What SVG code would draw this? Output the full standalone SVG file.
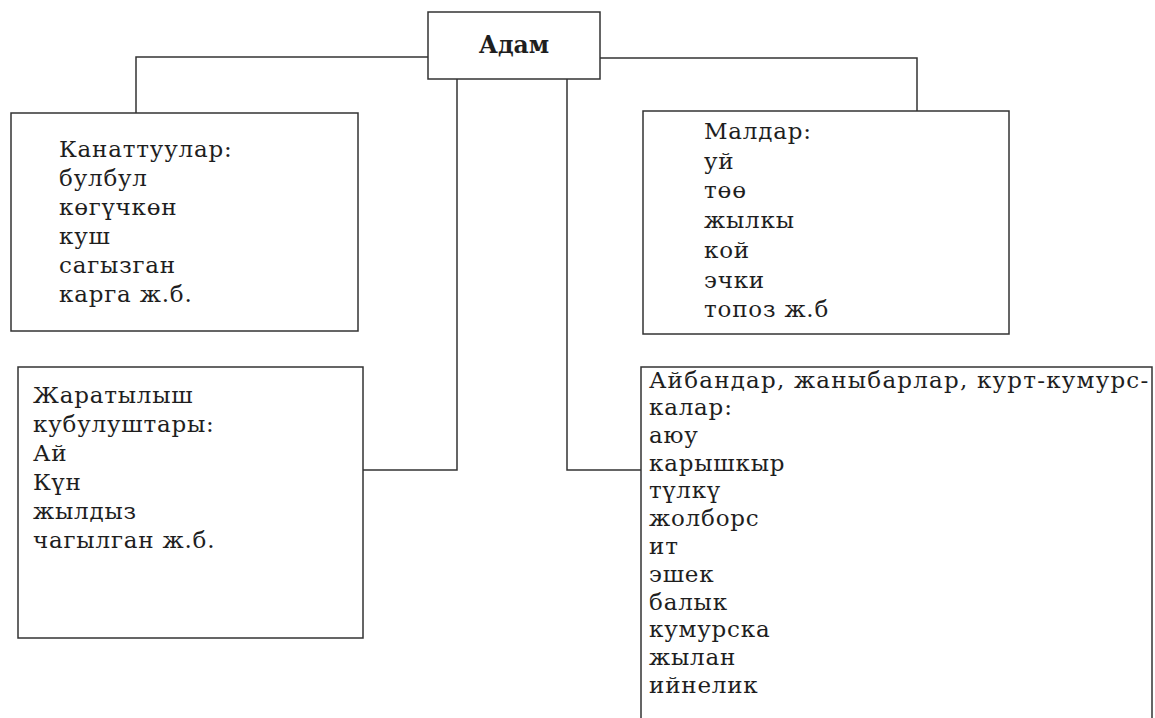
<svg xmlns="http://www.w3.org/2000/svg" width="1155" height="718" viewBox="0 0 1155 718">
<style>
.box{fill:#fff;stroke:#333;stroke-width:1.5}
.ln{fill:none;stroke:#333;stroke-width:1.5}
.t{font-family:"DejaVu Serif","Liberation Serif",serif;font-size:23px;letter-spacing:0.8px;fill:#1e1e1e}
.b{font-family:"DejaVu Serif","Liberation Serif",serif;font-size:23.5px;font-weight:bold;fill:#1e1e1e}
</style>
<rect width="1155" height="718" fill="#fff"/>
<g id="connectors">
<polyline class="ln" points="428,57 136,57 136,113"/>
<polyline class="ln" points="600,58 917,58 917,111"/>
<polyline class="ln" points="457,79 457,470 363,470"/>
<polyline class="ln" points="567,79 567,470 641,470"/>
</g>
<g id="adam">
<rect class="box" x="428" y="12" width="172" height="67"/>
<text class="b" x="514" y="53" text-anchor="middle">Адам</text>
</g>
<g id="kanattuular">
<rect class="box" x="11" y="113" width="347" height="218"/>
<text class="t" x="59" y="157">Канаттуулар:</text>
<text class="t" x="59" y="186">булбул</text>
<text class="t" x="59" y="215">көгүчкөн</text>
<text class="t" x="59" y="244">куш</text>
<text class="t" x="59" y="273">сагызган</text>
<text class="t" x="59" y="302">карга ж.б.</text>
</g>
<g id="maldar">
<rect class="box" x="643" y="111" width="366" height="223"/>
<text class="t" x="704" y="139">Малдар:</text>
<text class="t" x="704" y="169">уй</text>
<text class="t" x="704" y="198">төө</text>
<text class="t" x="704" y="228">жылкы</text>
<text class="t" x="704" y="258">кой</text>
<text class="t" x="704" y="288">эчки</text>
<text class="t" x="704" y="317">топоз ж.б</text>
</g>
<g id="zharatylysh">
<rect class="box" x="18" y="367" width="345" height="271"/>
<text class="t" x="33" y="403">Жаратылыш</text>
<text class="t" x="33" y="432">кубулуштары:</text>
<text class="t" x="33" y="461">Ай</text>
<text class="t" x="33" y="490">Күн</text>
<text class="t" x="33" y="519">жылдыз</text>
<text class="t" x="33" y="548">чагылган ж.б.</text>
</g>
<g id="aibandar">
<rect class="box" x="641" y="367" width="511" height="360"/>
<text class="t" x="649" y="388" textLength="500" lengthAdjust="spacing">Айбандар, жаныбарлар, курт-кумурс-</text>
<text class="t" x="649" y="415">калар:</text>
<text class="t" x="649" y="443">аюу</text>
<text class="t" x="649" y="471">карышкыр</text>
<text class="t" x="649" y="498">түлкү</text>
<text class="t" x="649" y="526">жолборс</text>
<text class="t" x="649" y="554">ит</text>
<text class="t" x="649" y="582">эшек</text>
<text class="t" x="649" y="610">балык</text>
<text class="t" x="649" y="637">кумурска</text>
<text class="t" x="649" y="665">жылан</text>
<text class="t" x="649" y="693">ийнелик</text>
</g>
</svg>
